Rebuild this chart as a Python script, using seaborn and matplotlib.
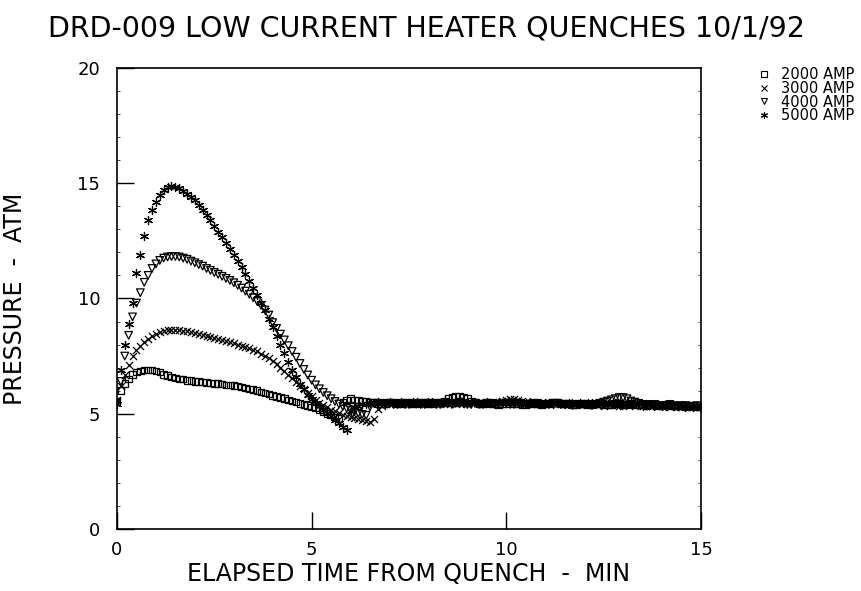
import numpy as np
import pandas as pd
import matplotlib
matplotlib.use('Agg')
import matplotlib.pyplot as plt
from matplotlib.lines import Line2D
import seaborn as sns

# sampled every 0.1 min, 0 .. 15 min
time_min = np.round(np.arange(0, 15.01, 0.1), 1)

p_2000 = [5.5, 6.0, 6.3, 6.5, 6.7, 6.8, 6.85, 6.9, 6.9, 6.9,
          6.85, 6.8, 6.7, 6.65, 6.6, 6.55, 6.5, 6.5, 6.45, 6.45,
          6.4, 6.4, 6.38, 6.35, 6.33, 6.3, 6.3, 6.28, 6.25, 6.25,
          6.22, 6.2, 6.15, 6.12, 6.08, 6.05, 6.0, 5.95, 5.9, 5.85,
          5.8, 5.75, 5.7, 5.65, 5.6, 5.55, 5.5, 5.45, 5.4, 5.35,
          5.3, 5.25, 5.15, 5.1, 5.0, 4.95, 4.85, 4.8, 5.5, 5.6,
          5.65, 5.6, 5.6, 5.55, 5.55, 5.5, 5.5, 5.45, 5.45, 5.45,
          5.5, 5.5, 5.45, 5.45, 5.5, 5.5, 5.45, 5.45, 5.5, 5.5,
          5.45, 5.45, 5.5, 5.5, 5.55, 5.65, 5.7, 5.75, 5.75, 5.7,
          5.65, 5.55, 5.5, 5.45, 5.45, 5.5, 5.45, 5.45, 5.4, 5.45,
          5.45, 5.5, 5.45, 5.45, 5.4, 5.4, 5.45, 5.45, 5.45, 5.4,
          5.45, 5.45, 5.5, 5.5, 5.45, 5.45, 5.45, 5.4, 5.4, 5.45,
          5.45, 5.4, 5.4, 5.45, 5.45, 5.4, 5.4, 5.4, 5.45, 5.45,
          5.4, 5.4, 5.45, 5.4, 5.4, 5.4, 5.35, 5.4, 5.4, 5.35,
          5.35, 5.4, 5.4, 5.35, 5.35, 5.35, 5.3, 5.35, 5.35, 5.3,
          5.3]

p_3000 = [5.6, 6.2, 6.7, 7.1, 7.5, 7.75, 7.95, 8.1, 8.25, 8.35,
          8.45, 8.55, 8.6, 8.65, 8.65, 8.65, 8.62, 8.6, 8.57, 8.53,
          8.5, 8.46, 8.42, 8.38, 8.34, 8.3, 8.25, 8.2, 8.15, 8.1,
          8.05, 8.0, 7.95, 7.9, 7.85, 7.78, 7.7, 7.6, 7.5, 7.4,
          7.28, 7.15, 7.0, 6.85, 6.7, 6.55, 6.38, 6.2, 6.05, 5.9,
          5.75, 5.6, 5.48, 5.37, 5.27, 5.18, 5.1, 5.02, 4.95, 4.9,
          4.85, 4.8, 4.75, 4.72, 4.68, 4.65, 4.75, 5.2, 5.35, 5.4,
          5.4, 5.45, 5.4, 5.4, 5.45, 5.4, 5.4, 5.45, 5.45, 5.4,
          5.4, 5.45, 5.45, 5.4, 5.4, 5.45, 5.45, 5.4, 5.45, 5.45,
          5.4, 5.45, 5.5, 5.45, 5.4, 5.4, 5.45, 5.45, 5.5, 5.55,
          5.6, 5.65, 5.65, 5.6, 5.55, 5.5, 5.45, 5.45, 5.4, 5.4,
          5.4, 5.45, 5.45, 5.4, 5.4, 5.4, 5.45, 5.45, 5.4, 5.4,
          5.4, 5.45, 5.4, 5.4, 5.4, 5.35, 5.4, 5.4, 5.4, 5.35,
          5.35, 5.4, 5.4, 5.35, 5.4, 5.35, 5.35, 5.35, 5.4, 5.35,
          5.35, 5.35, 5.3, 5.35, 5.35, 5.3, 5.35, 5.3, 5.3, 5.3,
          5.3]

p_4000 = [5.5, 6.4, 7.5, 8.4, 9.2, 9.8, 10.25, 10.7, 11.0, 11.3,
          11.5, 11.65, 11.75, 11.8, 11.82, 11.82, 11.8, 11.75, 11.7, 11.62,
          11.55, 11.47, 11.4, 11.3, 11.22, 11.13, 11.05, 10.96, 10.87, 10.78,
          10.68, 10.57, 10.45, 10.32, 10.18, 10.03, 9.87, 9.7, 9.5, 9.28,
          8.95, 8.7, 8.45, 8.2, 7.95, 7.7, 7.45, 7.18, 6.92, 6.68,
          6.45, 6.25, 6.08, 5.92, 5.78, 5.65, 5.53, 5.42, 5.32, 5.23,
          5.15, 5.08, 5.02, 4.97, 4.93, 5.3, 5.45, 5.45, 5.45, 5.4,
          5.45, 5.4, 5.4, 5.45, 5.4, 5.4, 5.45, 5.45, 5.4, 5.4,
          5.45, 5.45, 5.4, 5.4, 5.45, 5.45, 5.4, 5.45, 5.5, 5.45,
          5.4, 5.4, 5.45, 5.4, 5.4, 5.45, 5.45, 5.4, 5.4, 5.45,
          5.45, 5.4, 5.4, 5.45, 5.4, 5.4, 5.4, 5.45, 5.45, 5.4,
          5.4, 5.4, 5.45, 5.45, 5.4, 5.4, 5.4, 5.35, 5.4, 5.4,
          5.4, 5.4, 5.35, 5.4, 5.45, 5.5, 5.55, 5.6, 5.65, 5.7,
          5.7, 5.65, 5.55, 5.5, 5.45, 5.4, 5.4, 5.35, 5.4, 5.35,
          5.35, 5.35, 5.4, 5.35, 5.3, 5.35, 5.35, 5.3, 5.3, 5.35,
          5.3]

p_5000 = [5.4, 6.9, 8.0, 8.9, 9.8, 11.1, 11.9, 12.7, 13.4, 13.85,
          14.2, 14.5, 14.7, 14.82, 14.88, 14.85, 14.78, 14.68, 14.55, 14.4,
          14.25, 14.05, 13.85, 13.62, 13.4, 13.15, 12.9, 12.65, 12.4, 12.15,
          11.9, 11.62, 11.35, 11.05, 10.75, 10.45, 10.15, 9.82, 9.48, 9.12,
          8.75, 8.38, 8.0, 7.62, 7.25, 6.9, 6.58, 6.3, 6.05, 5.83,
          5.65, 5.48, 5.32, 5.17, 5.02, 4.88, 4.73, 4.58, 4.42, 4.3,
          5.1, 5.3, 5.35, 5.4, 5.4, 5.45, 5.45, 5.5, 5.45, 5.45,
          5.5, 5.45, 5.45, 5.5, 5.45, 5.45, 5.5, 5.5, 5.45, 5.45,
          5.5, 5.5, 5.45, 5.45, 5.5, 5.5, 5.45, 5.5, 5.5, 5.45,
          5.45, 5.5, 5.5, 5.45, 5.45, 5.5, 5.45, 5.45, 5.5, 5.45,
          5.45, 5.45, 5.5, 5.45, 5.45, 5.45, 5.5, 5.45, 5.45, 5.4,
          5.45, 5.45, 5.4, 5.45, 5.45, 5.4, 5.45, 5.45, 5.4, 5.45,
          5.4, 5.45, 5.45, 5.4, 5.4, 5.45, 5.4, 5.4, 5.45, 5.4,
          5.4, 5.45, 5.4, 5.4, 5.4, 5.35, 5.4, 5.4, 5.35, 5.4,
          5.35, 5.35, 5.4, 5.35, 5.35, 5.35, 5.3, 5.35, 5.3, 5.35,
          5.3]

labels = ['2000 AMP', '3000 AMP', '4000 AMP', '5000 AMP']
series = [p_2000, p_3000, p_4000, p_5000]

sns.set_style('white')
plt.rcParams['font.family'] = ['DejaVu Sans']
plt.rcParams['text.color'] = 'black'
plt.rcParams['axes.labelcolor'] = 'black'

fig = plt.figure(figsize=(8.62, 5.91), dpi=100)
ax = fig.add_axes([0.1357, 0.105, 0.6775, 0.78])

# marker styles: hollow square, x, hollow down triangle, asterisk
styles = [dict(marker='s', facecolor='none', edgecolor='black', s=22, linewidth=0.9),
          dict(marker='x', color='black', s=26, linewidth=0.9),
          dict(marker='v', facecolor='none', edgecolor='black', s=30, linewidth=0.9),
          dict(marker=(6, 2, 0), color='black', s=34, linewidth=0.9)]

for lab, vals, st in zip(labels, series, styles):
    sns.scatterplot(x=time_min, y=vals, ax=ax, legend=False, **st)

ax.set_xlim(0, 15)
ax.set_ylim(0, 20)
ax.set_xticks([0, 5, 10, 15])
ax.set_yticks([0, 5, 10, 15, 20])
ax.set_yticks(np.arange(0, 20.1, 1), minor=True)
ax.tick_params(axis='both', which='major', direction='in', length=12, width=1,
               labelsize=13, colors='black', bottom=True, left=True)
ax.tick_params(axis='x', which='major', pad=9)
ax.tick_params(axis='y', which='major', pad=12)
ax.tick_params(axis='y', which='minor', direction='in', length=2, width=0.6,
               left=True, right=True)
for sp in ax.spines.values():
    sp.set_visible(True)
    sp.set_color('black')
    sp.set_linewidth(1.2)

ax.set_xlabel('ELAPSED TIME FROM QUENCH  -  MIN', fontsize=17, labelpad=2)
ax.set_ylabel('PRESSURE  -  ATM', fontsize=17, labelpad=36)
fig.suptitle('DRD-009 LOW CURRENT HEATER QUENCHES 10/1/92', fontsize=20.5,
             x=0.495, y=0.975)

handles = [Line2D([], [], linestyle='none', marker='s', markerfacecolor='none',
                  markeredgecolor='black', markersize=4, markeredgewidth=0.8),
           Line2D([], [], linestyle='none', marker='x', color='black', markersize=4.5,
                  markeredgewidth=0.8),
           Line2D([], [], linestyle='none', marker='v', markerfacecolor='none',
                  markeredgecolor='black', markersize=4.5, markeredgewidth=0.8),
           Line2D([], [], linestyle='none', marker=(6, 2, 0), color='black',
                  markersize=5, markeredgewidth=0.8)]
leg = ax.legend(handles, labels, loc='upper left', bbox_to_anchor=(1.09, 1.015),
                frameon=False, fontsize=10.5, handlelength=0.6, handletextpad=0.9,
                labelspacing=-0.08, borderaxespad=0)

fig.savefig('out.png', dpi=100, facecolor='white')
